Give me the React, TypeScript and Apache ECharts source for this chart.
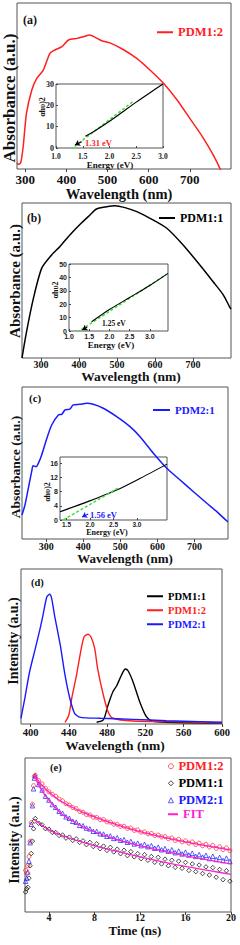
import React, { useEffect, useRef } from "react";
import * as echarts from "echarts";

// ---------- (a) absorbance PDM1:2 ----------
const aWave = [280, 283, 289, 295, 303, 316, 328, 344, 360, 372, 389, 405, 426, 441, 457, 470, 486, 506, 538, 571, 603, 636, 669, 700, 733, 757, 773, 780];
const aAbs = [0.036, 0.028, 0.038, 0.134, 0.335, 0.476, 0.546, 0.596, 0.697, 0.717, 0.737, 0.777, 0.787, 0.797, 0.807, 0.793, 0.773, 0.76, 0.72, 0.666, 0.596, 0.516, 0.416, 0.305, 0.185, 0.084, 0.004, -0.04];
const aInsetE = [1.55, 1.7, 2.0, 2.25, 2.5, 2.75, 3.0];
const aInsetV = [5.5, 7.6, 12.5, 17, 21.5, 25.8, 30];
const aFitE = [1.2, 2.45];
const aFitV = [-2.1, 22];

// ---------- (b) absorbance PDM1:1 ----------
const bWave = [250, 262, 280, 302, 328, 350, 376, 403, 429, 446, 473, 495, 521, 552, 587, 631, 674, 718, 753, 780, 796, 800];
const bAbs = [0, 0.17, 0.385, 0.58, 0.665, 0.72, 0.794, 0.863, 0.923, 0.961, 0.976, 0.983, 0.97, 0.944, 0.901, 0.837, 0.729, 0.6, 0.492, 0.406, 0.331, 0.315];
const bInsetE = [1.56, 2.0, 2.5, 3.0, 3.45];
const bInsetV = [6.9, 16, 25, 34, 43];
const bFitE = [1.2, 3.4];
const bFitV = [-1, 42];

// ---------- (c) absorbance PDM2:1 ----------
const cWave = [235, 243, 252, 261, 265, 273, 279, 288, 302, 315, 333, 342, 351, 364, 373, 391, 409, 427, 454, 490, 526, 553, 589, 625, 661, 697, 733, 760, 787, 790];
const cAbs = [0.158, 0.224, 0.333, 0.443, 0.482, 0.476, 0.498, 0.553, 0.663, 0.75, 0.816, 0.82, 0.849, 0.855, 0.882, 0.886, 0.893, 0.886, 0.86, 0.805, 0.739, 0.673, 0.564, 0.465, 0.388, 0.311, 0.235, 0.18, 0.118, 0.112];
const cInsetE = [1.36, 1.98, 2.57, 3.07, 3.64];
const cInsetV = [2.3, 5.3, 8.4, 11.7, 15.7];
const cFitE = [1.43, 2.6];
const cFitV = [0, 9];

// ---------- (d) PL spectra ----------
const dWaveBlue = [390, 394, 399, 405, 410, 413, 417, 420, 422, 425, 431, 436, 441, 446, 452, 473, 507, 542, 577, 600];
const dBlue = [0.037, 0.166, 0.337, 0.488, 0.617, 0.703, 0.821, 0.837, 0.811, 0.703, 0.51, 0.316, 0.166, 0.069, 0.043, 0.037, 0.03, 0.021, 0.015, 0.011];
const dWaveRed = [436, 440, 443, 448, 453, 456, 460, 463, 467, 470, 476, 481, 486, 507, 542, 600];
const dRed = [0.011, 0.058, 0.166, 0.316, 0.488, 0.563, 0.579, 0.563, 0.488, 0.359, 0.187, 0.079, 0.037, 0.019, 0.015, 0.008];
const dWaveBlack = [469, 476, 481, 486, 490, 495, 499, 502, 507, 514, 521, 527, 542, 600];
const dBlack = [0.011, 0.026, 0.123, 0.208, 0.247, 0.316, 0.355, 0.342, 0.273, 0.144, 0.047, 0.019, 0.011, 0.006];

// ---------- (e) decay ----------
const eTime = [1.95, 2.05, 2.15, 2.25, 2.35, 2.45, 2.55, 2.65, 2.72,
  2.8, 3.1, 3.4, 3.7, 4.0, 4.3, 4.6, 4.9, 5.2, 5.5, 5.8, 6.1, 6.4, 6.7, 7.0, 7.3, 7.6, 7.9, 8.2, 8.5,
  8.8, 9.1, 9.4, 9.7, 10.0, 10.3, 10.6, 10.9, 11.2, 11.5, 11.8, 12.1, 12.4, 12.7, 13.0, 13.3, 13.6, 13.9, 14.2, 14.5,
  14.8, 15.1, 15.4, 15.7, 16.0, 16.3, 16.6, 16.9, 17.2, 17.5, 17.8, 18.1, 18.4, 18.7, 19.0, 19.3, 19.6, 19.9];
const eRed = [0.27, 0.25, 0.3, 0.36, 0.46, 0.58, 0.7, 0.82, 0.88,
  0.888, 0.853, 0.832, 0.803, 0.781, 0.764, 0.752, 0.733, 0.722, 0.703, 0.694, 0.678, 0.671, 0.653, 0.648,
  0.633, 0.63, 0.615, 0.614, 0.599, 0.6, 0.585, 0.584, 0.57, 0.569, 0.556, 0.557, 0.543, 0.545, 0.53,
  0.533, 0.518, 0.52, 0.508, 0.51, 0.496, 0.5, 0.487, 0.49, 0.476, 0.481, 0.465, 0.472, 0.455, 0.462,
  0.447, 0.455, 0.438, 0.447, 0.43, 0.44, 0.422, 0.433, 0.413, 0.424, 0.405, 0.416, 0.398];
const eBlue = [0.2, 0.22, 0.26, 0.33, 0.45, 0.57, 0.69, 0.8, 0.87,
  0.886, 0.828, 0.792, 0.752, 0.727, 0.698, 0.68, 0.654, 0.641, 0.618, 0.609, 0.589, 0.583, 0.563, 0.56,
  0.545, 0.54, 0.524, 0.524, 0.508, 0.506, 0.492, 0.494, 0.478, 0.482, 0.466, 0.47, 0.453, 0.458, 0.442,
  0.447, 0.431, 0.44, 0.424, 0.431, 0.414, 0.421, 0.404, 0.412, 0.395, 0.404, 0.385, 0.396, 0.377, 0.389,
  0.37, 0.382, 0.361, 0.373, 0.356, 0.368, 0.347, 0.362, 0.341, 0.355, 0.334, 0.35, 0.328];
const eBlack = [0.13, 0.15, 0.16, 0.22, 0.3, 0.38, 0.46, 0.54, 0.59,
  0.607, 0.576, 0.566, 0.541, 0.538, 0.517, 0.516, 0.497, 0.5, 0.48, 0.486, 0.465, 0.475, 0.452, 0.462,
  0.437, 0.452, 0.425, 0.443, 0.411, 0.428, 0.4, 0.42, 0.39, 0.408, 0.378, 0.401, 0.366, 0.392, 0.358,
  0.379, 0.346, 0.372, 0.336, 0.36, 0.323, 0.355, 0.312, 0.343, 0.3, 0.336, 0.29, 0.33, 0.284, 0.322,
  0.27, 0.312, 0.262, 0.305, 0.25, 0.293, 0.24, 0.288, 0.226, 0.276, 0.21, 0.268, 0.2];
const fitTime = [2.75, 3, 3.5, 4, 5, 6, 7, 8, 10, 12, 14, 16, 18, 20];
const fitRed = [0.89, 0.86, 0.815, 0.78, 0.722, 0.682, 0.647, 0.618, 0.566, 0.522, 0.486, 0.455, 0.428, 0.402];
const fitBlue = [0.89, 0.84, 0.775, 0.726, 0.645, 0.594, 0.553, 0.521, 0.47, 0.43, 0.395, 0.365, 0.338, 0.312];
const fitBlack = [0.6, 0.585, 0.557, 0.533, 0.5, 0.474, 0.452, 0.43, 0.393, 0.358, 0.326, 0.296, 0.27, 0.244];

// tick labels
const absTicks = [300, 400, 500, 600, 700];
const plTicks = [400, 440, 480, 520, 560, 600];
const timeTicks = [4, 8, 12, 16, 20];

const SERIF = '"Liberation Serif", serif';
const SANS = '"Liberation Sans", sans-serif';
const RED = "#ff1f1f";
const BLUE = "#1a1aff";
const BLACK = "#000000";
const GREEN = "#3ee23e";
const MAG = "#ff22cc";
const AX = "#444";

const pairs = (xs: number[], ys: number[]) => xs.map((x, i) => [x, ys[i]]);

function xMain(gi: number, min: number, max: number, ticks: number[], fs: number, margin: number) {
  return {
    type: "value", gridIndex: gi, min, max,
    axisLine: { show: false }, splitLine: { show: false },
    axisTick: { show: true, inside: false, length: 3, customValues: ticks, lineStyle: { color: AX } },
    axisLabel: { customValues: ticks, margin, fontSize: fs, fontWeight: "bold", fontFamily: SERIF, color: "#111" },
  };
}
function yHidden(gi: number) {
  return { type: "value", gridIndex: gi, min: 0, max: 1, show: false };
}
function xInset(gi: number, min: number, max: number, ticks: number[], fam: string, fs: number, margin: number) {
  return {
    type: "value", gridIndex: gi, min, max,
    axisLine: { show: false }, splitLine: { show: false },
    axisTick: { show: true, inside: true, length: 2, customValues: ticks, lineStyle: { color: AX } },
    axisLabel: { customValues: ticks, margin, fontSize: fs, fontWeight: "bold", fontFamily: fam, color: "#222", formatter: (v: number) => v.toFixed(1) },
  };
}
function yInset(gi: number, min: number, max: number, ticks: number[], fam: string, fs: number) {
  return {
    type: "value", gridIndex: gi, min, max,
    axisLine: { show: false }, splitLine: { show: false },
    axisTick: { show: true, inside: true, length: 2, customValues: ticks, lineStyle: { color: AX } },
    axisLabel: { customValues: ticks, margin: 2, fontSize: fs, fontWeight: "bold", fontFamily: fam, color: "#222" },
  };
}
function grid(left: number, top: number, width: number, height: number) {
  return { left, top, width, height, show: true, borderColor: "#555", borderWidth: 1, backgroundColor: "transparent", containLabel: false, outerBoundsMode: "none" };
}
function lineS(name: string, gi: number, data: number[][], color: string, width = 1.5, extra: any = {}) {
  return {
    type: "line", name, xAxisIndex: gi, yAxisIndex: gi, data, symbol: "none", showSymbol: false,
    smooth: 0.25, lineStyle: { color, width }, itemStyle: { color }, clip: true, ...extra,
  };
}
function arrow(from: number[], to: number[], color: string) {
  return {
    silent: true, symbol: ["none", "arrow"], symbolSize: 5, label: { show: false },
    lineStyle: { color, width: 1.2, type: "solid" },
    data: [[{ coord: from }, { coord: to }]],
  };
}
function scat(name: string, ys: number[], color: string, symbol: string, size: number) {
  return {
    type: "scatter", name, xAxisIndex: 7, yAxisIndex: 7, data: pairs(eTime, ys), symbol, symbolSize: size,
    itemStyle: { color: "rgba(0,0,0,0)", borderColor: color, borderWidth: 0.9 }, z: 2,
  };
}
function T(text: string, x: number, y: number, size: number, color = "#111", rot = 0, align = "center", fam = SERIF, weight = "bold") {
  return {
    type: "text", x, y, rotation: rot, silent: true,
    style: { text, fill: color, fontSize: size, fontWeight: weight, fontFamily: fam, align, verticalAlign: "middle" },
  };
}
// legend with a line icon
function legendLine(name: string, left: number, yc: number, color: string, fs: number, iw: number) {
  return {
    show: true, orient: "horizontal", left, top: yc - fs / 2, padding: 0, itemGap: 0,
    itemWidth: iw, itemHeight: 2, selectedMode: false,
    formatter: (n: string) => n.split("|")[1],
    textStyle: { fontSize: fs, fontWeight: "bold", fontFamily: SERIF, color, padding: 0 },
    data: [{ name, icon: "rect", itemStyle: { color, borderWidth: 0 }, textStyle: { color } }],
  };
}
// legend with a hollow marker icon
function legendMark(name: string, left: number, yc: number, color: string, fs: number, icon: string) {
  return {
    show: true, orient: "horizontal", left, top: yc - fs / 2, padding: 0, itemGap: 0,
    itemWidth: 5, itemHeight: 5, selectedMode: false,
    formatter: (n: string) => n.split("|")[1],
    textStyle: { fontSize: fs, fontWeight: "bold", fontFamily: SERIF, color, padding: 0 },
    data: [{ name, icon, itemStyle: { color: "rgba(0,0,0,0)", borderColor: color, borderWidth: 0.9 }, textStyle: { color } }],
  };
}

export default function App() {
  const ref = useRef<HTMLDivElement>(null);
  useEffect(() => {
    const chart = echarts.init(ref.current!, null, { renderer: "svg" });
    const option: any = {
      animation: false,
      backgroundColor: "#fff",
      grid: [
        grid(17, 3, 214, 166),
        grid(56, 84, 107, 64),
        grid(22, 203, 209, 155),
        grid(69, 264, 99, 67),
        grid(22, 387, 206, 152),
        grid(60, 457, 107, 63),
        grid(21, 569, 201, 155),
        grid(25, 758, 206, 154),
      ],
      xAxis: [
        xMain(0, 280, 800, absTicks, 13, 3.5),
        xInset(1, 1.0, 3.0, [1.0, 1.5, 2.0, 2.5, 3.0], SERIF, 7.5, 4),
        xMain(2, 250, 800, absTicks, 10, 1.5),
        xInset(3, 1.0, 3.45, [1.0, 1.5, 2.0, 2.5, 3.0], SANS, 7, 2),
        xMain(4, 235, 790, absTicks, 10, 2),
        xInset(5, 1.36, 3.64, [1.5, 2.0, 2.5, 3.0], SANS, 6.5, 1),
        xMain(6, 390, 600, plTicks, 10.5, 3),
        xMain(7, 1.9, 20, timeTicks, 10, 0.5),
      ],
      yAxis: [
        yHidden(0),
        yInset(1, 0, 30, [0, 10, 20, 30], SERIF, 8),
        yHidden(2),
        yInset(3, 0, 50, [0, 10, 20, 30, 40, 50], SANS, 7),
        yHidden(4),
        yInset(5, 0, 17.7, [0, 4, 8, 12, 16], SANS, 7),
        yHidden(6),
        yHidden(7),
      ],
      legend: [
        legendLine("a|PDM1:2", 157, 32, RED, 12.5, 16),
        legendLine("b|PDM1:1", 159, 218, BLACK, 12, 16),
        legendLine("c|PDM2:1", 153, 410, BLUE, 11, 17),
        legendLine("d|PDM1:1", 147, 596, BLACK, 10.5, 16),
        legendLine("d|PDM1:2", 147, 610, RED, 10.5, 16),
        legendLine("d|PDM2:1", 147, 624, BLUE, 10.5, 16),
        legendMark("e|PDM1:2", 168, 766, RED, 12.5, "circle"),
        legendMark("e|PDM1:1", 168, 783, BLACK, 12.5, "diamond"),
        legendMark("e|PDM2:1", 168, 800, BLUE, 12.5, "triangle"),
        legendLine("e|FIT", 168, 814, MAG, 12.5, 10),
      ],
      series: [
        lineS("a|PDM1:2", 0, pairs(aWave, aAbs), RED, 1.5),
        lineS("a_fit", 1, pairs(aFitE, aFitV), GREEN, 1.5, { smooth: false, lineStyle: { color: GREEN, width: 1.5, type: [3, 2] }, markLine: arrow([1.48, 2.95], [1.355, 1.4], BLACK) }),
        lineS("a_tauc", 1, pairs(aInsetE, aInsetV), BLACK, 1.2),
        lineS("b|PDM1:1", 2, pairs(bWave, bAbs), BLACK, 1.5),
        lineS("b_fit", 3, pairs(bFitE, bFitV), GREEN, 1.5, { smooth: false, lineStyle: { color: GREEN, width: 1.5, type: [3, 2] }, markLine: arrow([1.45, 3], [1.33, 0.8], BLACK) }),
        lineS("b_tauc", 3, pairs(bInsetE, bInsetV), BLACK, 1.1),
        lineS("c|PDM2:1", 4, pairs(cWave, cAbs), BLUE, 1.5),
        lineS("c_tauc", 5, pairs(cInsetE, cInsetV), BLACK, 1.1),
        lineS("c_fit", 5, pairs(cFitE, cFitV), GREEN, 1.5, { smooth: false, lineStyle: { color: GREEN, width: 1.5, type: [3, 2] }, markLine: arrow([1.96, 1.7], [1.83, 0.85], BLUE) }),
        lineS("d|PDM1:1", 6, pairs(dWaveBlack, dBlack), BLACK, 1.4),
        lineS("d|PDM1:2", 6, pairs(dWaveRed, dRed), RED, 1.4),
        lineS("d|PDM2:1", 6, pairs(dWaveBlue, dBlue), BLUE, 1.4),
        scat("e|PDM1:1", eBlack, BLACK, "diamond", 4.5),
        scat("e|PDM2:1", eBlue, BLUE, "triangle", 4.5),
        scat("e|PDM1:2", eRed, RED, "circle", 4),
        lineS("e|FIT", 7, pairs(fitTime, fitRed), MAG, 1.3, { z: 3 }),
        lineS("e|FIT2", 7, pairs(fitTime, fitBlue), MAG, 1.3, { z: 3 }),
        lineS("e|FIT3", 7, pairs(fitTime, fitBlack), MAG, 1.3, { z: 3 }),
      ],
      graphic: [
        T("(a)", 23, 20, 12, "#111", 0, "left"),
        T("(b)", 27, 218, 11.5, "#111", 0, "left"),
        T("(c)", 29, 398, 11, "#111", 0, "left"),
        T("(d)", 31, 582, 10.5, "#111", 0, "left"),
        T("(e)", 50, 767, 10.5, "#111", 0, "left"),
        T("Absorbance (a.u.)", 9, 98, 17, "#111", Math.PI / 2),
        T("Wavelength (nm)", 119, 193.5, 14.5),
        T("Absorbance (a.u.)", 15, 281, 15, "#111", Math.PI / 2),
        T("Wavelength (nm)", 131, 376, 13.5),
        T("Absorbance (a.u.)", 15, 467, 13.5, "#111", Math.PI / 2),
        T("Wavelength (nm)", 125, 558, 13),
        T("Intensity (a.u.)", 13, 641, 14, "#111", Math.PI / 2),
        T("Wavelength (nm)", 115, 745, 13.5),
        T("Intensity (a.u.)", 14, 840, 14, "#111", Math.PI / 2),
        T("Time (ns)", 135, 930.5, 13),
        T("Energy (eV)", 110, 164.5, 9),
        T("αhυ)2", 42, 107, 8, "#111", Math.PI / 2),
        T("1.31 eV", 85, 143, 8.5, RED, 0, "left"),
        T("Energy (eV)", 111, 344.5, 9),
        T("αhυ2", 55, 290, 8, "#111", Math.PI / 2),
        T("1.25 eV", 102, 323, 7.5, "#111", 0, "left"),
        T("Energy (eV)", 107, 532, 8),
        T("αhυ)2", 47, 492, 8, "#111", Math.PI / 2),
        T("1.56 eV", 90, 515, 8.5, BLUE, 0, "left"),
      ],
    };
    chart.setOption(option);
    return () => chart.dispose();
  }, []);
  return <div ref={ref} style={{ position: "absolute", left: 0, top: 0, width: 240, height: 945, background: "#fff" }} />;
}
